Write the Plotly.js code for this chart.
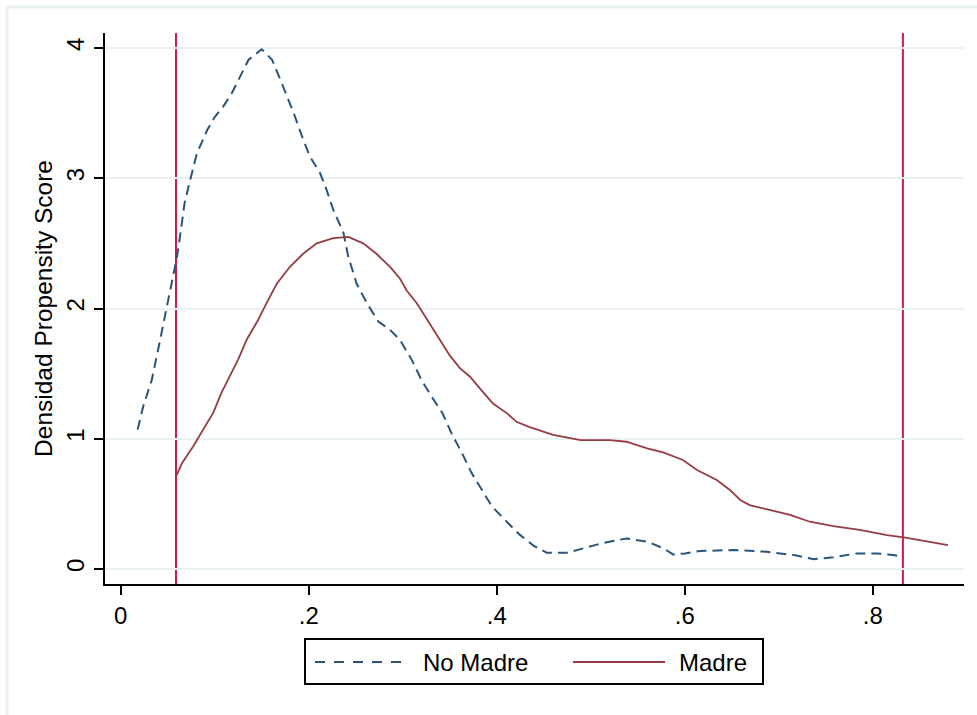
<!DOCTYPE html>
<html>
<head>
<meta charset="utf-8">
<script src="https://cdn.plot.ly/plotly-3.0.1.min.js"></script>
<style>
  html, body { margin: 0; padding: 0; background: #ffffff; }
  #chart { width: 977px; height: 715px; }
</style>
</head>
<body>
<div id="chart"></div>
<script>
// ---- data ----
const noMadreX = [0.018, 0.024, 0.033, 0.037, 0.042, 0.047, 0.052, 0.060, 0.063, 0.068, 0.074, 0.081, 0.092, 0.100, 0.109, 0.118, 0.127, 0.136, 0.150, 0.161, 0.173, 0.184, 0.193, 0.201, 0.212, 0.219, 0.226, 0.237, 0.242, 0.251, 0.262, 0.274, 0.286, 0.297, 0.310, 0.320, 0.331, 0.342, 0.352, 0.363, 0.373, 0.384, 0.395, 0.411, 0.425, 0.439, 0.453, 0.475, 0.492, 0.513, 0.538, 0.560, 0.577, 0.588, 0.600, 0.616, 0.652, 0.687, 0.716, 0.737, 0.758, 0.783, 0.804, 0.822, 0.831];
const noMadreY = [1.07, 1.25, 1.45, 1.60, 1.76, 1.94, 2.12, 2.40, 2.55, 2.81, 2.99, 3.19, 3.37, 3.47, 3.55, 3.65, 3.78, 3.91, 3.99, 3.91, 3.70, 3.50, 3.32, 3.17, 3.04, 2.91, 2.76, 2.58, 2.40, 2.19, 2.04, 1.90, 1.84, 1.76, 1.60, 1.45, 1.32, 1.20, 1.04, 0.89, 0.74, 0.61, 0.48, 0.36, 0.26, 0.18, 0.125, 0.125, 0.16, 0.20, 0.235, 0.21, 0.16, 0.11, 0.12, 0.138, 0.146, 0.133, 0.107, 0.075, 0.09, 0.12, 0.12, 0.107, 0.094];

const madreX = [0.0588, 0.065, 0.077, 0.088, 0.0985, 0.107, 0.116, 0.125, 0.134, 0.146, 0.155, 0.166, 0.180, 0.194, 0.2085, 0.226, 0.242, 0.258, 0.272, 0.2865, 0.297, 0.304, 0.315, 0.322, 0.331, 0.3415, 0.350, 0.361, 0.3716, 0.382, 0.396, 0.411, 0.421, 0.435, 0.460, 0.489, 0.520, 0.538, 0.560, 0.577, 0.598, 0.613, 0.634, 0.648, 0.659, 0.669, 0.691, 0.712, 0.733, 0.758, 0.786, 0.815, 0.833, 0.857, 0.880];
const madreY = [0.71, 0.81, 0.94, 1.07, 1.20, 1.35, 1.48, 1.61, 1.76, 1.91, 2.04, 2.19, 2.32, 2.42, 2.50, 2.54, 2.55, 2.50, 2.42, 2.32, 2.23, 2.14, 2.04, 1.96, 1.86, 1.73, 1.64, 1.54, 1.476, 1.387, 1.27, 1.195, 1.13, 1.09, 1.03, 0.99, 0.99, 0.977, 0.926, 0.895, 0.837, 0.76, 0.683, 0.607, 0.53, 0.491, 0.453, 0.415, 0.363, 0.33, 0.30, 0.261, 0.243, 0.21, 0.184];

const cutoffs = [0.0588, 0.832];

const xTickVals = [0, 0.2, 0.4, 0.6, 0.8];
const xTickText = ["0", ".2", ".4", ".6", ".8"];
const yTickVals = [0, 1, 2, 3, 4];
const yTickText = ["0", "1", "2", "3", "4"];

const seriesNames = ["No Madre", "Madre"];
const yTitle = "Densidad Propensity Score";

// ---- styling ----
const FONT = "Liberation Sans, Arial, sans-serif";
const navy = "#2c5479";
const maroon = "#963c45";
const lineRed = "#cc1a48";
const gridCol = "#e9f1f3";

const W = 977, H = 715;
const M = { l: 105, r: 13, t: 33, b: 131 };
const plotW = W - M.l - M.r, plotH = H - M.t - M.b;
const px = v => (v - M.l) / plotW;          // pixel x -> paper x
const py = v => (M.t + plotH - v) / plotH;  // pixel y -> paper y

const traces = [
  { x: noMadreX, y: noMadreY, type: "scatter", mode: "lines", name: seriesNames[0],
    line: { color: navy, width: 2, dash: "10px,6px" }, showlegend: false, hoverinfo: "skip" },
  { x: madreX, y: madreY, type: "scatter", mode: "lines", name: seriesNames[1],
    line: { color: maroon, width: 1.8 }, showlegend: false, hoverinfo: "skip" }
];

const shapes = [];
// frame of the graph region
shapes.push({ type: "line", xref: "paper", yref: "paper", x0: px(7), x1: px(W), y0: py(7), y1: py(7),
  line: { color: gridCol, width: 3 }, layer: "below" });
shapes.push({ type: "line", xref: "paper", yref: "paper", x0: px(7), x1: px(7), y0: py(7), y1: py(H),
  line: { color: gridCol, width: 3 }, layer: "below" });
// cutoff lines
cutoffs.forEach(c => shapes.push({ type: "line", xref: "x", yref: "paper", x0: c, x1: c, y0: 0, y1: 1,
  line: { color: lineRed, width: 2 }, layer: "between" }));
// legend box
shapes.push({ type: "rect", xref: "paper", yref: "paper", x0: px(305), x1: px(763), y0: py(684), y1: py(639),
  line: { color: "#000000", width: 2 }, fillcolor: "rgba(0,0,0,0)" });
shapes.push({ type: "line", xref: "paper", yref: "paper", x0: px(315), x1: px(407), y0: py(662), y1: py(662),
  line: { color: navy, width: 2, dash: "10px,9px" } });
shapes.push({ type: "line", xref: "paper", yref: "paper", x0: px(573), x1: px(665), y0: py(662), y1: py(662),
  line: { color: maroon, width: 1.8 } });

const annotations = [
  { xref: "paper", yref: "paper", x: px(421), y: py(662), xanchor: "left", yanchor: "middle",
    text: seriesNames[0], showarrow: false, font: { family: FONT, size: 24, color: "#000" } },
  { xref: "paper", yref: "paper", x: px(677), y: py(662), xanchor: "left", yanchor: "middle",
    text: seriesNames[1], showarrow: false, font: { family: FONT, size: 24, color: "#000" } }
];

const layout = {
  width: W, height: H,
  margin: { l: M.l, r: M.r, t: M.t, b: M.b, pad: 0, autoexpand: false },
  paper_bgcolor: "#ffffff", plot_bgcolor: "#ffffff",
  showlegend: false,
  font: { family: FONT, size: 24, color: "#000" },
  xaxis: {
    range: [-0.0167, 0.897], tickmode: "array", tickvals: xTickVals, ticktext: xTickText,
    ticks: "outside", ticklen: 9, tickwidth: 2, tickcolor: "#000",
    showline: true, linewidth: 2, linecolor: "#000", mirror: false,
    showgrid: false, zeroline: false, fixedrange: true,
    tickfont: { family: FONT, size: 24, color: "#000" }
  },
  yaxis: {
    range: [-0.115, 4.115], tickmode: "array", tickvals: yTickVals, ticktext: yTickText,
    tickangle: -90,
    ticks: "outside", ticklen: 9, tickwidth: 2, tickcolor: "#000",
    showline: true, linewidth: 2, linecolor: "#000",
    showgrid: true, gridcolor: gridCol, gridwidth: 2, zeroline: false, fixedrange: true,
    tickfont: { family: FONT, size: 24, color: "#000" },
    automargin: true,
    title: { text: yTitle, standoff: 3, font: { family: FONT, size: 24.5, color: "#000" } }
  },
  shapes: shapes,
  annotations: annotations
};

Plotly.newPlot("chart", traces, layout, { displayModeBar: false, staticPlot: true });
</script>
</body>
</html>
